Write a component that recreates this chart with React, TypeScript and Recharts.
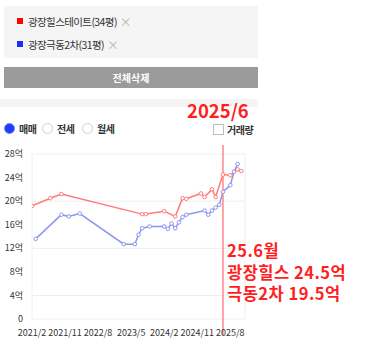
import { LineChart, Line, XAxis, YAxis, CartesianGrid, ReferenceLine } from "recharts";

// 광장힐스테이트(34평) 실거래
const hillDates = ["2021/2", "2021/7", "2021/10", "2023/8", "2023/9", "2024/2", "2024/5", "2024/7", "2024/8", "2024/12", "2025/1", "2025/3", "2025/4", "2025/6", "2025/8", "2025/10", "2025/11"];
const hillPrices = [19.2, 20.5, 21.2, 17.8, 17.8, 18.3, 17.4, 20.5, 20.4, 21.3, 20.7, 22.0, 20.7, 24.5, 24.4, 25.4, 25.1];

// 광장극동2차(31평) 실거래
const geukDates = ["2021/3", "2021/10", "2021/12", "2022/3", "2023/3", "2023/6", "2023/7", "2023/8", "2023/10", "2024/2", "2024/3", "2024/4", "2024/5", "2024/6", "2024/7", "2024/8", "2025/1", "2025/2", "2025/3", "2025/4", "2025/5", "2025/6", "2025/8", "2025/9", "2025/10"];
const geukPrices = [13.6, 17.7, 17.4, 17.9, 12.7, 12.7, 14.3, 15.4, 15.7, 15.7, 15.3, 16.2, 15.4, 16.4, 17.3, 17.7, 18.4, 17.7, 18.4, 18.9, 19.4, 21.6, 22.7, 25.0, 26.3];

const xTickLabels = ["2021/2", "2021/11", "2022/8", "2023/5", "2024/2", "2024/11", "2025/8"];
const xDomainLabels = ["2021/2", "2025/12"];
const yTicks = [0, 4, 8, 12, 16, 20, 24, 28];
const markDate = "2025/6";
const annoLines = ["25.6월", "광장힐스 24.5억", "극동2차 19.5억"];

const RED = "#ff7b7b";
const BLUE = "#8b95f2";
const FONT = '"Noto Sans CJK KR", "Noto Sans", sans-serif';

// months since 2021/1
const toT = (s: string) => {
  const [y, m] = s.split("/").map(Number);
  return (y - 2021) * 12 + m - 1;
};
const fromT = (t: number) => `${2021 + Math.floor(t / 12)}/${(t % 12) + 1}`;

const hillData = hillDates.map((d, i) => ({ t: toT(d), v: hillPrices[i] }));
const geukData = geukDates.map((d, i) => ({ t: toT(d), v: geukPrices[i] }));

// 기준월 세로선 + 주석 (플롯 영역 위아래로 조금 넘침)
function MarkLabel({ viewBox }: any) {
  if (!viewBox) return null;
  const { x, y, height } = viewBox;
  return (
    <g>
      <line x1={x} y1={y - 9} x2={x} y2={y + height + 16} stroke="#ff8585" strokeWidth={1.5} />
      {annoLines.map((l, i) => (
        <text
          key={l}
          x={x + 4}
          y={y + 103 + i * 21.5}
          fill="#ff1f1f"
          fontSize={16.5}
          fontWeight={700}
          letterSpacing={0.5}
          fontFamily={FONT}
        >
          {l}
        </text>
      ))}
    </g>
  );
}

function Radio({ on, label, left }: { on?: boolean; label: string; left: number }) {
  return (
    <div style={{ position: "absolute", left, top: 121, display: "flex", alignItems: "center" }}>
      <div
        style={{
          width: 9,
          height: 9,
          borderRadius: "50%",
          border: on ? "1px solid #6f83ff" : "1px solid #cfcfcf",
          background: on ? "#1f3dff" : "#fff",
        }}
      />
      <span style={{ marginLeft: 4, fontSize: 10, fontWeight: 700, color: "#333", letterSpacing: -0.5 }}>{label}</span>
    </div>
  );
}

export default function App() {
  return (
    <div style={{ position: "absolute", left: 0, top: 0, width: 371, height: 349, background: "#fff", fontFamily: FONT, overflow: "hidden" }}>
      {/* 선택 단지 */}
      <div style={{ position: "absolute", left: 4, top: 6, width: 254, height: 52, background: "#f5f5f5" }} />
      {[
        { name: "광장힐스테이트(34평)", color: "#ff0000", top: 21 },
        { name: "광장극동2차(31평)", color: "#1a2cff", top: 44 },
      ].map((it) => (
        <div key={it.name} style={{ position: "absolute", left: 17, top: it.top - 7, height: 14, display: "flex", alignItems: "center" }}>
          <div style={{ width: 6, height: 6, background: it.color }} />
          <span style={{ marginLeft: 5, fontSize: 10.5, color: "#333", letterSpacing: -0.6 }}>{it.name}</span>
          <span style={{ marginLeft: 3, fontSize: 12, color: "#b5b5b5" }}>×</span>
        </div>
      ))}
      <div
        style={{
          position: "absolute",
          left: 4,
          top: 67,
          width: 254,
          height: 21,
          background: "#9b9b9b",
          color: "#fff",
          fontSize: 10,
          fontWeight: 700,
          display: "flex",
          alignItems: "center",
          justifyContent: "center",
        }}
      >
        전체삭제
      </div>
      <div style={{ position: "absolute", left: 0, top: 99, width: 258, height: 8, background: "#f5f5f5" }} />
      <div style={{ position: "absolute", left: 187, top: 101, fontSize: 18.5, lineHeight: "18px", fontWeight: 700, color: "#ff1f1f" }}>
        {markDate}
      </div>

      <Radio on label="매매" left={4} />
      <Radio label="전세" left={42} />
      <Radio label="월세" left={82} />
      <div style={{ position: "absolute", left: 213, top: 122, display: "flex", alignItems: "center" }}>
        <div style={{ width: 9, height: 9, border: "1px solid #bdbdbd", background: "#fff" }} />
        <span style={{ marginLeft: 3, fontSize: 10, fontWeight: 700, color: "#333", letterSpacing: -0.5 }}>거래량</span>
      </div>

      <div style={{ position: "absolute", left: 0, top: 140 }}>
        <LineChart width={371} height={205} margin={{ top: 14, right: 126, bottom: 6, left: 0 }}>
          <CartesianGrid
            stroke="#eeeeee"
            verticalCoordinatesGenerator={({ offset }: any) => [offset.left, offset.left + offset.width]}
          />
          <XAxis
            type="number"
            dataKey="t"
            domain={xDomainLabels.map(toT)}
            ticks={xTickLabels.map(toT)}
            tickFormatter={(t) => fromT(t)}
            interval={0}
            axisLine={false}
            tickLine={false}
            tickMargin={5}
            height={20}
            tick={{ fontSize: 9, fill: "#333" }}
            allowDataOverflow
          />
          <YAxis
            domain={[0, 28]}
            ticks={yTicks}
            tickFormatter={(v) => (v === 0 ? "0" : `${v}억`)}
            width={32}
            axisLine={false}
            tickLine={false}
            tickMargin={3}
            tick={{ fontSize: 9, fill: "#333" }}
          />
          <Line
            data={hillData}
            dataKey="v"
            type="linear"
            stroke={RED}
            strokeWidth={1.5}
            dot={{ r: 1.8, fill: "#fff", stroke: RED, strokeWidth: 1 }}
            isAnimationActive={false}
          />
          <Line
            data={geukData}
            dataKey="v"
            type="linear"
            stroke={BLUE}
            strokeWidth={1.5}
            dot={{ r: 1.8, fill: "#fff", stroke: BLUE, strokeWidth: 1 }}
            isAnimationActive={false}
          />
          <ReferenceLine x={toT(markDate)} stroke="none" strokeWidth={0} label={<MarkLabel />} />
        </LineChart>
      </div>
    </div>
  );
}
